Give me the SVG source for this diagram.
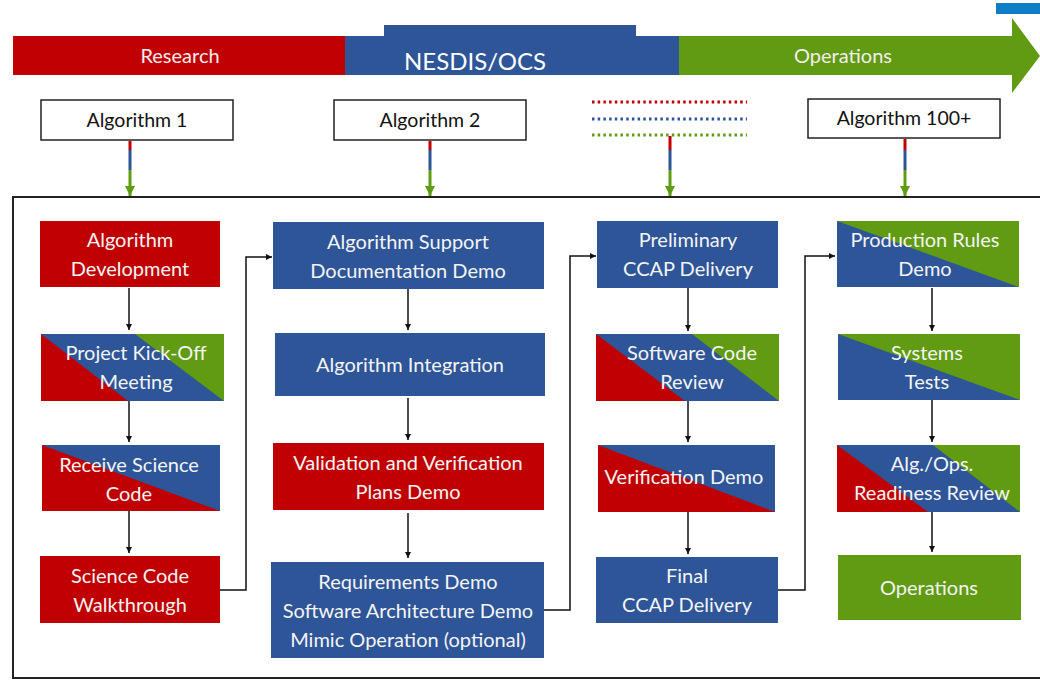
<svg xmlns="http://www.w3.org/2000/svg" width="1040" height="680" viewBox="0 0 1040 680">
<style>
.t{font-family:Lato,"Open Sans",sans-serif;font-size:20px;fill:#F4F4F4;text-anchor:middle}
.a{font-family:Lato,"Open Sans",sans-serif;font-size:19.5px;fill:#111;text-anchor:middle}
.hb{font-family:Lato,"Open Sans",sans-serif;font-size:20px;fill:#F4EDED;text-anchor:middle}
.lb{fill:#fff;stroke:#222;stroke-width:1.5}
.c{fill:none;stroke:#111;stroke-width:1.5}
.R{fill:#C00000}.B{fill:#2E5597}.G{fill:#609B12}
.sr{stroke:#C00000;stroke-width:3;fill:none}.sb{stroke:#2E5597;stroke-width:3;fill:none}.sg{stroke:#609B12;stroke-width:3;fill:none}
</style>
<defs>
<marker id="ah" viewBox="0 0 10 10" refX="10" refY="5" markerWidth="6" markerHeight="6" orient="auto" markerUnits="userSpaceOnUse"><path d="M0,0L10,5L0,10z" fill="#111"/></marker>
<marker id="gh" viewBox="0 0 10 10" refX="10" refY="5" markerWidth="10" markerHeight="10" orient="auto" markerUnits="userSpaceOnUse"><path d="M0,0L10,5L0,10z" fill="#609B12"/></marker>
</defs>
<rect width="1040" height="680" fill="#fff"/>
<g id="banner">
<rect x="13" y="36" width="333" height="39" class="R"/>
<rect x="345" y="36" width="335" height="39" class="B"/>
<rect x="384" y="25" width="252" height="15" class="B"/>
<path d="M679,36H1012V18L1040,56L1012,93V75H679z" class="G"/>
<rect x="996" y="3" width="44" height="11" fill="#0F7CC6"/>
<text x="180" y="63" class="hb">Research</text>
<text x="475" y="70" style="font-family:Lato,'Open Sans',sans-serif;font-size:24px;fill:#fff;text-anchor:middle">NESDIS/OCS</text>
<text x="843" y="63" class="hb" fill="#EEF4E4">Operations</text>
</g>
<g id="alg1"><rect x="41" y="100" width="192" height="40" class="lb"/><text x="137" y="127" class="a">Algorithm 1</text></g>
<g id="alg2"><rect x="334" y="100" width="192" height="40" class="lb"/><text x="430" y="127" class="a">Algorithm 2</text></g>
<g id="alg100"><rect x="808" y="99" width="192" height="39" class="lb"/><text x="904" y="125" class="a">Algorithm 100+</text></g>
<g id="dots" stroke-width="3" stroke-dasharray="2.5 3.2" fill="none">
<path d="M592,102H747" stroke="#C00000"/>
<path d="M592,119H747" stroke="#2E5597"/>
<path d="M592,135H747" stroke="#609B12"/>
</g>
<g id="stubs">
<path d="M130,141V150M430,141V150M670,136V150M905,139V150" class="sr"/>
<path d="M130,150V170M430,150V170M670,150V170M905,150V170" class="sb"/>
<path d="M130,170V196" class="sg" marker-end="url(#gh)"/>
<path d="M430,170V196" class="sg" marker-end="url(#gh)"/>
<path d="M670,170V196" class="sg" marker-end="url(#gh)"/>
<path d="M905,170V196" class="sg" marker-end="url(#gh)"/>
</g>
<rect id="frame" x="13" y="197" width="1030" height="481" fill="none" stroke="#222" stroke-width="2"/>

<g id="n1"><rect x="40" y="221" width="180" height="66" class="R"/><text x="130" y="247" class="t">Algorithm</text><text x="130" y="276" class="t">Development</text></g>
<g id="n2"><rect x="41" y="334" width="183" height="67" class="B"/><path d="M41,334L128,401H41z" class="R"/><path d="M135,334H224V401z" class="G"/><text x="136" y="360" class="t">Project Kick-Off</text><text x="136" y="389" class="t">Meeting</text></g>
<g id="n3"><rect x="42" y="445" width="178" height="66" class="B"/><path d="M42,445L220,511H42z" class="R"/><text x="129" y="472" class="t">Receive Science</text><text x="129" y="501" class="t">Code</text></g>
<g id="n4"><rect x="40" y="556" width="180" height="67" class="R"/><text x="130" y="583" class="t">Science Code</text><text x="130" y="612" class="t">Walkthrough</text></g>

<g id="n5"><rect x="273" y="222" width="271" height="67" class="B"/><text x="408" y="249" class="t">Algorithm Support</text><text x="408" y="278" class="t">Documentation Demo</text></g>
<g id="n6"><rect x="275" y="333" width="270" height="63" class="B"/><text x="410" y="372" class="t">Algorithm Integration</text></g>
<g id="n7"><rect x="273" y="443" width="271" height="67" class="R"/><text x="408" y="470" class="t">Validation and Verification</text><text x="408" y="499" class="t">Plans Demo</text></g>
<g id="n8"><rect x="271" y="562" width="273" height="96" class="B"/><text x="408" y="589" class="t">Requirements Demo</text><text x="408" y="618" class="t">Software Architecture Demo</text><text x="408" y="647" class="t">Mimic Operation (optional)</text></g>

<g id="n9"><rect x="597" y="221" width="181" height="67" class="B"/><text x="688" y="247" class="t">Preliminary</text><text x="688" y="276" class="t">CCAP Delivery</text></g>
<g id="n10"><rect x="596" y="334" width="183" height="67" class="B"/><path d="M596,334L685,401H596z" class="R"/><path d="M692,334H779V401z" class="G"/><text x="692" y="360" class="t">Software Code</text><text x="692" y="389" class="t">Review</text></g>
<g id="n11"><rect x="598" y="445" width="177" height="67" class="B"/><path d="M598,445L775,512H598z" class="R"/><text x="684" y="484" class="t">Verification Demo</text></g>
<g id="n12"><rect x="596" y="557" width="182" height="66" class="B"/><text x="687" y="583" class="t">Final</text><text x="687" y="612" class="t">CCAP Delivery</text></g>

<g id="n13"><rect x="837" y="221" width="182" height="66" class="G"/><path d="M837,221L1019,287H837z" class="B"/><text x="925" y="247" class="t">Production Rules</text><text x="925" y="276" class="t">Demo</text></g>
<g id="n14"><rect x="838" y="334" width="182" height="66" class="G"/><path d="M838,334L1020,400H838z" class="B"/><text x="927" y="360" class="t">Systems</text><text x="927" y="389" class="t">Tests</text></g>
<g id="n15"><rect x="837" y="445" width="183" height="67" class="B"/><path d="M837,445L928,512H837z" class="R"/><path d="M933,445H1020V512z" class="G"/><text x="932" y="471" class="t">Alg./Ops.</text><text x="932" y="500" class="t">Readiness Review</text></g>
<g id="n16"><rect x="838" y="555" width="183" height="65" class="G"/><text x="929" y="595" class="t">Operations</text></g>

<g id="connectors">
<path d="M129,288V330" class="c" marker-end="url(#ah)"/>
<path d="M129,401V442" class="c" marker-end="url(#ah)"/>
<path d="M129,511V553" class="c" marker-end="url(#ah)"/>
<path d="M220,590H246V257H272" class="c" marker-end="url(#ah)"/>
<path d="M408,289V330" class="c" marker-end="url(#ah)"/>
<path d="M408,398V440" class="c" marker-end="url(#ah)"/>
<path d="M408,513V558" class="c" marker-end="url(#ah)"/>
<path d="M544,610H570V256H596" class="c" marker-end="url(#ah)"/>
<path d="M688,288V331" class="c" marker-end="url(#ah)"/>
<path d="M688,401V442" class="c" marker-end="url(#ah)"/>
<path d="M688,512V554" class="c" marker-end="url(#ah)"/>
<path d="M778,590H805V256H835" class="c" marker-end="url(#ah)"/>
<path d="M932,288V331" class="c" marker-end="url(#ah)"/>
<path d="M932,400V442" class="c" marker-end="url(#ah)"/>
<path d="M932,512V552" class="c" marker-end="url(#ah)"/>
</g>
</svg>
